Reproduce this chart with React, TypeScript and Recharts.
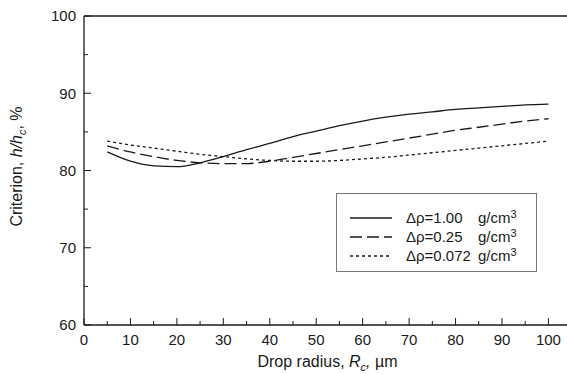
import { LineChart, Line, XAxis, YAxis, ReferenceLine } from 'recharts';

// drop radius Rc, um
const radius = [5, 10, 15, 20, 25, 30, 35, 40, 45, 50, 55, 60, 65, 70, 75, 80, 85, 90, 95, 100];
// criterion h/hc, %
const rho100 = [82.4, 81.2, 80.6, 80.5, 81.0, 81.8, 82.7, 83.5, 84.4, 85.1, 85.8, 86.4, 86.9, 87.3, 87.6, 87.9, 88.1, 88.3, 88.5, 88.6];
const rho025 = [83.2, 82.4, 81.8, 81.3, 81.0, 80.9, 80.9, 81.2, 81.7, 82.2, 82.7, 83.2, 83.7, 84.2, 84.7, 85.2, 85.6, 86.0, 86.4, 86.7];
const rho0072 = [83.8, 83.3, 82.9, 82.5, 82.1, 81.8, 81.5, 81.3, 81.2, 81.2, 81.3, 81.5, 81.7, 82.0, 82.3, 82.6, 82.9, 83.2, 83.5, 83.8];

const xTicks = [0, 5, 10, 15, 20, 25, 30, 35, 40, 45, 50, 55, 60, 65, 70, 75, 80, 85, 90, 95, 100];
const yTicks = [60, 65, 70, 75, 80, 85, 90, 95, 100];

const series = [
  { key: 'r100', label: '\u0394\u03c1=1.00', dash: undefined },
  { key: 'r025', label: '\u0394\u03c1=0.25', dash: '12 5' },
  { key: 'r0072', label: '\u0394\u03c1=0.072', dash: '3 3' },
];

const data = radius.map((r, i) => ({ r, r100: rho100[i], r025: rho025[i], r0072: rho0072[i] }));

const FONT = '"Liberation Sans", Arial, Helvetica, sans-serif';
const INK = '#1a1a1a';

const XTick = ({ x, y, payload }: any) => {
  const major = payload.value % 10 === 0;
  const base = y - 9;
  return (
    <g>
      <line x1={x} x2={x} y1={base} y2={base - (major ? 7 : 4)} stroke={INK} strokeWidth={1} />
      {major && (
        <text x={x} y={y} dy="0.71em" textAnchor="middle" fontSize={15} fontFamily={FONT} fill={INK}>
          {payload.value}
        </text>
      )}
    </g>
  );
};

const YTick = ({ x, y, payload }: any) => {
  const major = payload.value % 10 === 0;
  const base = x + 8;
  return (
    <g>
      <line x1={base} x2={base + (major ? 7 : 4)} y1={y} y2={y} stroke={INK} strokeWidth={1} />
      {major && (
        <text x={x} y={y} dy="0.36em" textAnchor="end" fontSize={15} fontFamily={FONT} fill={INK}>
          {payload.value}
        </text>
      )}
    </g>
  );
};

const YTitle = ({ viewBox }: any) => {
  const cx = viewBox.x + 16;
  const cy = viewBox.y + viewBox.height / 2 - 4;
  return (
    <text x={cx} y={cy} transform={`rotate(-90 ${cx} ${cy})`} textAnchor="middle" dy="0.36em"
      fontSize={16} fontFamily={FONT} fill={INK}>
      Criterion, <tspan fontStyle="italic">h/h</tspan>
      <tspan fontStyle="italic" fontSize={11} dy={4}>c</tspan>
      <tspan dy={-4}>, %</tspan>
    </text>
  );
};

const XTitle = ({ viewBox }: any) => {
  const cx = viewBox.x + viewBox.width / 2 + 2;
  const cy = viewBox.y + 42;
  return (
    <text x={cx} y={cy} textAnchor="middle" fontSize={16} fontFamily={FONT} fill={INK}>
      Drop radius, <tspan fontStyle="italic">R</tspan>
      <tspan fontStyle="italic" fontSize={11} dy={4}>c</tspan>
      <tspan dy={-4} fontStyle="italic">,</tspan> {'\u00b5'}m
    </text>
  );
};

const LegendBox = () => (
  <div style={{ position: 'absolute', left: 336, top: 193, border: '1px solid #777', width: 201, height: 79, boxSizing: 'border-box', padding: '14px 0 0 13px', background: '#fff' }}>
    {series.map((s) => (
      <div key={s.key} style={{ display: 'flex', alignItems: 'center', height: 19, fontFamily: FONT, fontSize: 15, color: INK, whiteSpace: 'nowrap' }}>
        <svg width={42} height={6} style={{ marginRight: 14 }}>
          <line x1={0} x2={42} y1={3} y2={3} stroke={INK} strokeWidth={1.3} strokeDasharray={s.dash} />
        </svg>
        <span style={{ width: 72 }}>{s.label}</span>
        <span>g/cm<span style={{ fontSize: 11, position: 'relative', top: -5 }}>3</span></span>
      </div>
    ))}
  </div>
);

export default function App() {
  return (
    <div style={{ position: 'absolute', left: 0, top: 0, width: 567, height: 374, background: '#fff' }}>
      <LineChart width={567} height={374} data={data} margin={{ top: 16, right: 0, bottom: 0, left: 0 }}>
        <XAxis
          dataKey="r"
          type="number"
          domain={[0, 104]}
          ticks={xTicks}
          interval={0}
          tickLine={false}
          tickSize={0}
          tickMargin={9}
          tick={<XTick />}
          height={49}
          axisLine={{ stroke: INK, strokeWidth: 1.3 }}
          label={<XTitle />}
        />
        <YAxis
          domain={[60, 100]}
          ticks={yTicks}
          interval={0}
          tickLine={false}
          tickSize={0}
          tickMargin={8}
          tick={<YTick />}
          width={84}
          axisLine={{ stroke: INK, strokeWidth: 1.3 }}
          label={<YTitle />}
        />
        <ReferenceLine y={100} stroke={INK} strokeWidth={1.3} />
        {series.map((s) => (
          <Line
            key={s.key}
            dataKey={s.key}
            type="monotone"
            stroke={INK}
            strokeWidth={1.3}
            strokeDasharray={s.dash}
            dot={false}
            isAnimationActive={false}
          />
        ))}
      </LineChart>
      <LegendBox />
    </div>
  );
}
